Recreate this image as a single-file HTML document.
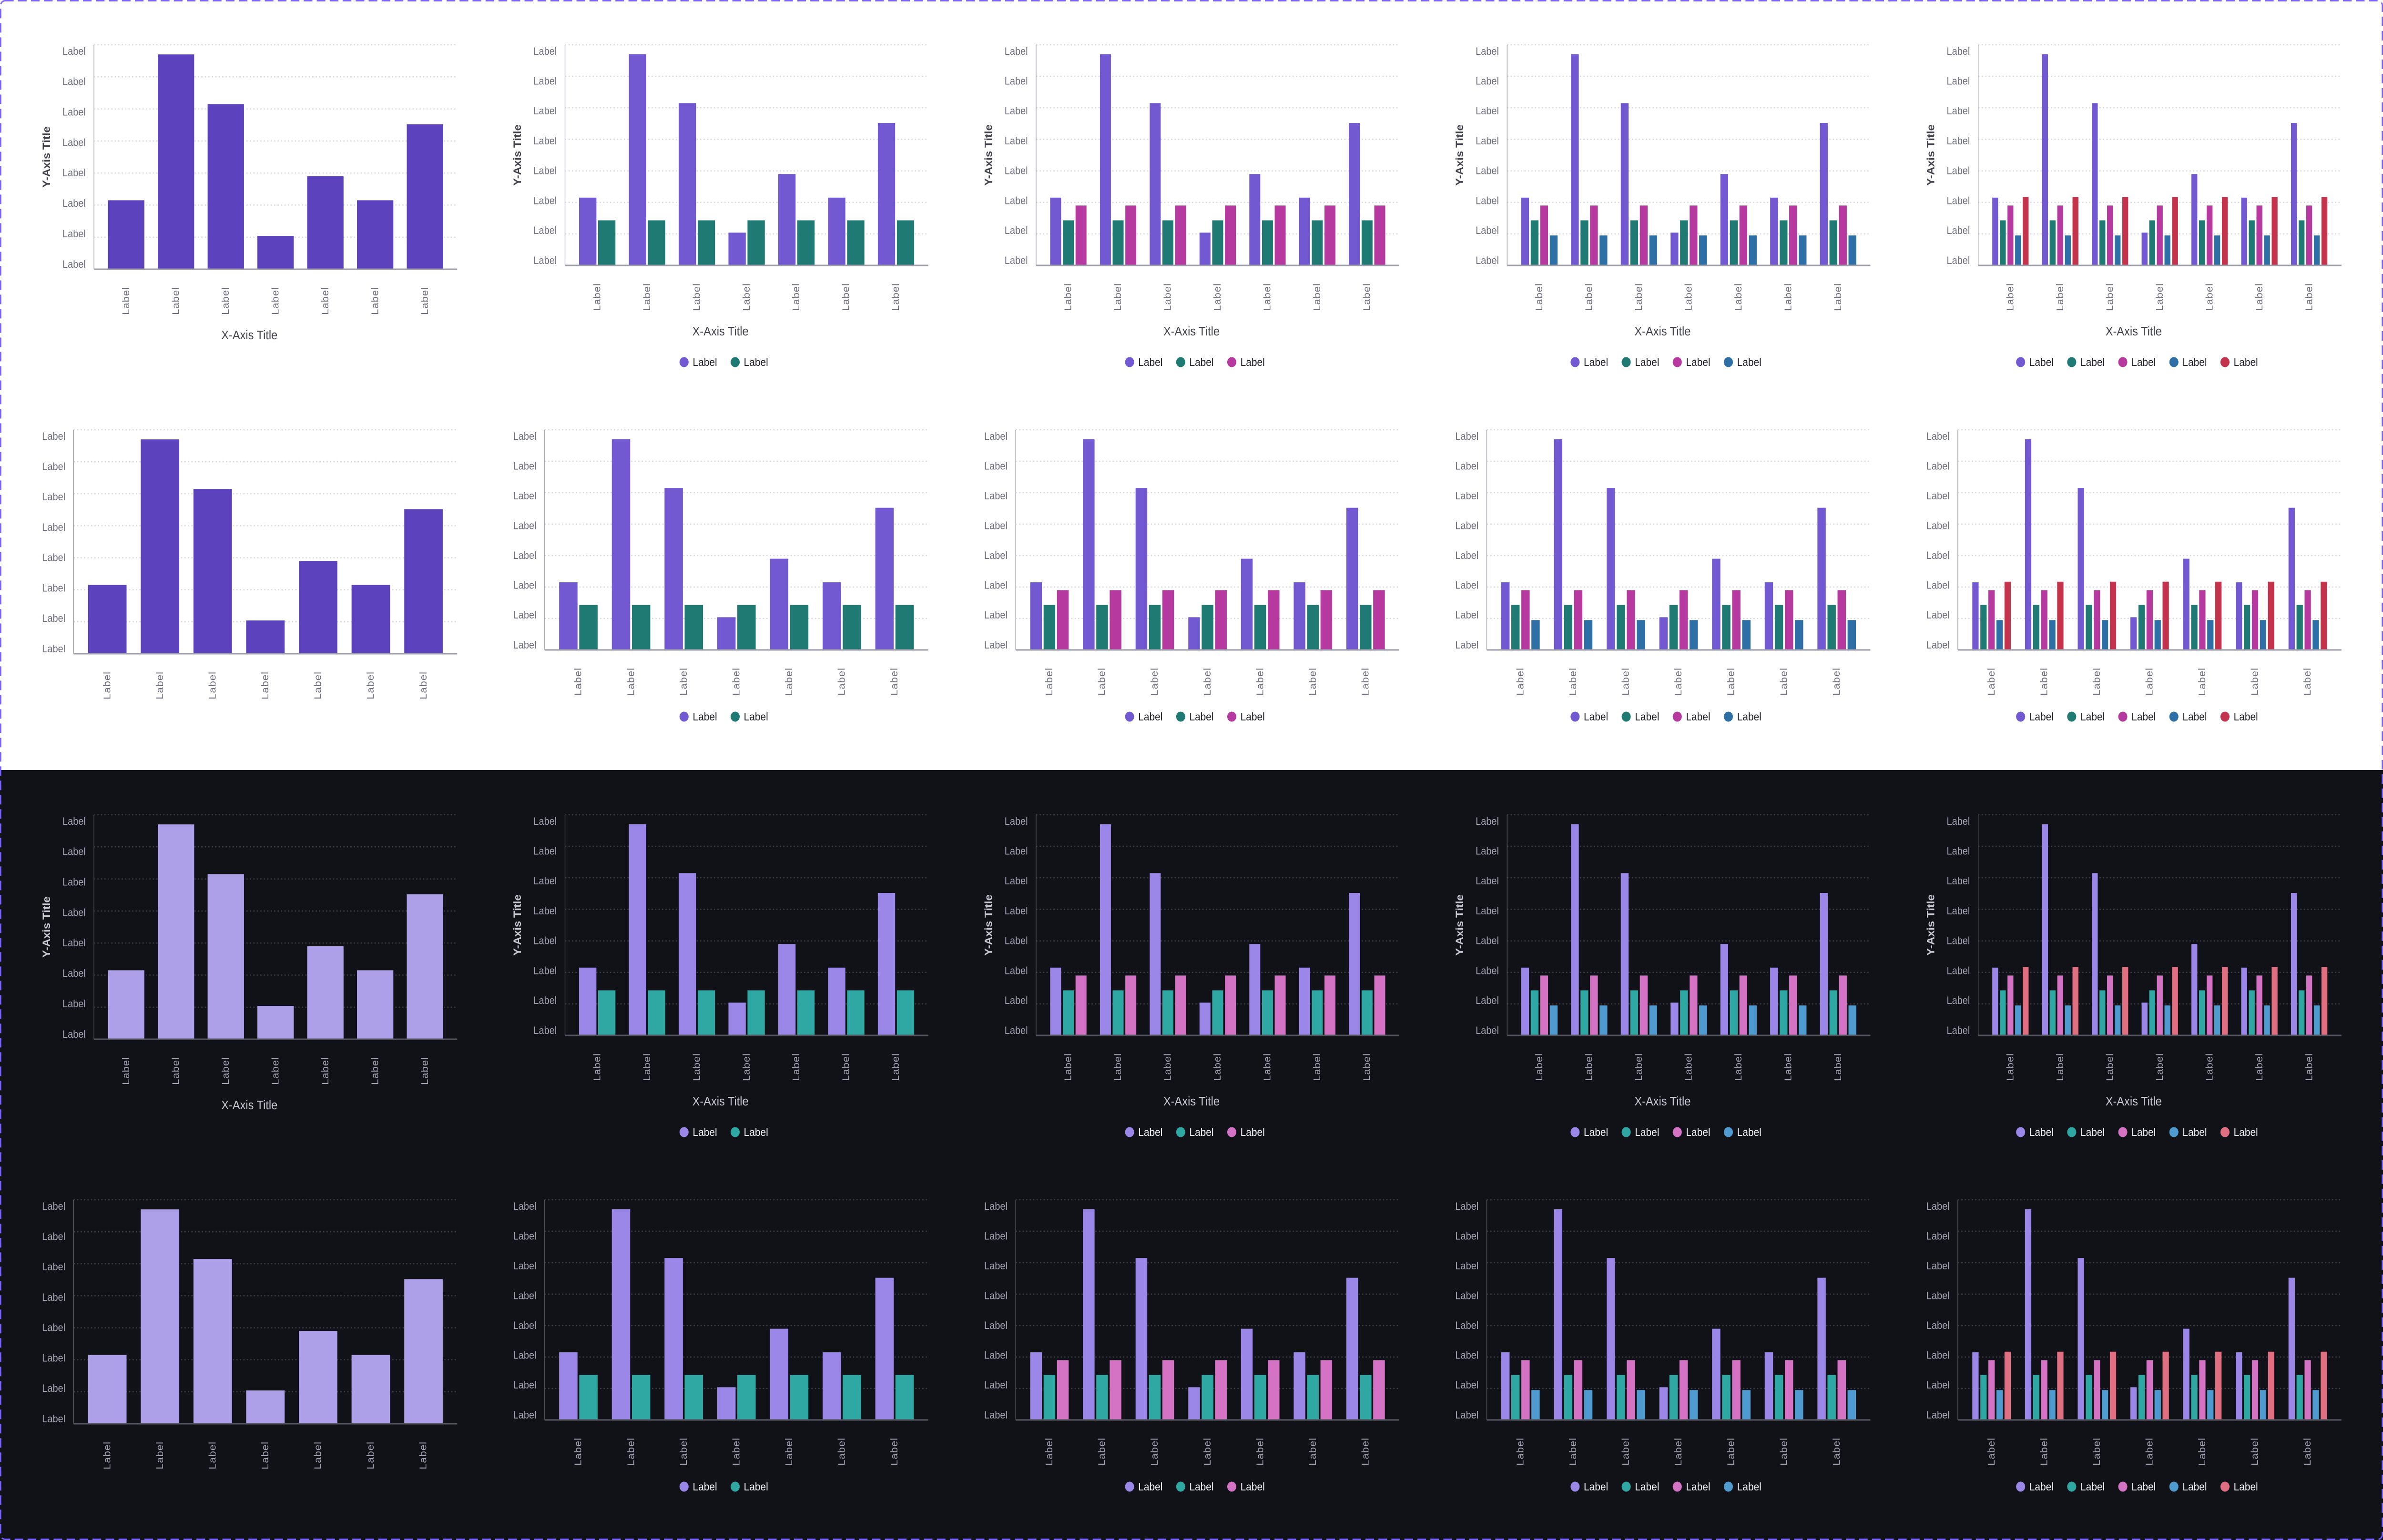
<!DOCTYPE html>
<html><head><meta charset="utf-8"><title>Bar chart variants</title>
<style>
html,body{margin:0;padding:0;background:#fff;overflow:hidden;width:100vw;height:100vh;}
svg{display:block;font-family:"Liberation Sans",sans-serif;width:100vw;height:100vh;}
</style></head>
<body>
<svg id="root" viewBox="0 0 5504 3232" preserveAspectRatio="none" xmlns="http://www.w3.org/2000/svg">
<rect x="0" y="0" width="5504" height="1616" fill="#ffffff"/>
<rect x="0" y="1616" width="5504" height="1616" fill="#111218"/>
<g id="charts"></g>
<rect x="1.5" y="1.5" width="5501" height="3229" rx="10" fill="none" stroke="#7b61ff" stroke-width="3" stroke-dasharray="20 10"/>
</svg>
<script>
// ---- data ----
const categories = ["Label","Label","Label","Label","Label","Label","Label"];
const seriesPurple = [2.15, 6.7, 5.15, 1.04, 2.9, 2.15, 4.52];
const seriesTeal = [1.43, 1.43, 1.43, 1.43, 1.43, 1.43, 1.43];
const seriesMagenta = [1.9, 1.9, 1.9, 1.9, 1.9, 1.9, 1.9];
const seriesBlue = [0.95, 0.95, 0.95, 0.95, 0.95, 0.95, 0.95];
const seriesRed = [2.17, 2.17, 2.17, 2.17, 2.17, 2.17, 2.17];
const yTickLabels = ["Label","Label","Label","Label","Label","Label","Label","Label"];
const legendLabels = ["Label","Label","Label","Label","Label"];
const yMax = 7;

const allSeries = [seriesPurple, seriesTeal, seriesMagenta, seriesBlue, seriesRed];
const seriesNames = ["purple","teal","magenta","blue","red"];
const themes = {
  light: {single:"#5c43bd", colors:["#7259d2","#207a74","#b5399f","#2e6fa6","#c3344c"],
    grid:"#d9d9df", axis:"#9c9cab", tick:"#6e6e80", title:"#43434f", legend:"#1f1f28"},
  dark: {single:"#ae9fe9", colors:["#9b87e8","#2fa7a2","#d472c4","#4f9bd0","#e07081"],
    grid:"#3b3c46", axis:"#55565f", tick:"#a3a3b3", title:"#c8c8d2", legend:"#f0f0f5"}
};
const NS = "http://www.w3.org/2000/svg";
const root = document.getElementById("charts");
function mk(tag, attrs, parent, text){
  const e = document.createElementNS(NS, tag);
  for (const k in attrs) e.setAttribute(k, attrs[k]);
  if (text !== undefined) e.textContent = text;
  parent.appendChild(e);
  return e;
}

function drawChart(col, row, half){
  const th = themes[half === 0 ? "light" : "dark"];
  const oy = half * 1616;
  const n = col + 1;
  const hasYTitle = row === 0;
  const hasXTitle = row === 0;
  const hasLegend = n > 1;
  const axisX = (hasYTitle ? 217 : 170) + 1088 * col;
  const rightX = 1056 + 1088 * col;
  const top = (row === 0 ? 94 : 902) + oy;
  const base = (row === 0 ? (n === 1 ? 565 : 557) : (n === 1 ? 1372 : 1364)) + oy;
  const centerX = 217 + 1088 * col + 359;

  const g = mk("g", {}, root);
  
  

  const yScale = v => base - (v / yMax) * (base - top);

  for (let i = 1; i <= yMax; i++){
    const y = yScale(i);
    const l = mk("line", {x1: axisX, x2: rightX, y1: y, y2: y, stroke: th.grid, "stroke-width": 2.5, "stroke-dasharray": "3 5"}, g);
    
    
  }
  const lt = top + 14, lb = base - 10;
  yTickLabels.forEach((t, i) => {
    const y = lb - (lb - lt) * i / (yTickLabels.length - 1);
    const e = mk("text", {x: axisX - 19, y: y, "text-anchor": "end", "dominant-baseline": "central", "font-size": 22, fill: th.tick}, g, t);
    
    
  });

  const pad = 17;
  const band = (rightX - axisX - 2 * pad) / categories.length;
  const groupW = band * 0.73;
  const gap = n > 1 ? 4 : 0;
  const barW = (groupW - gap * (n - 1)) / n;
  categories.forEach((c, ci) => {
    const gx = axisX + pad + band * ci + (band - groupW) / 2;
    for (let s = 0; s < n; s++){
      const v = allSeries[s][ci];
      const y = yScale(v);
      const b = mk("rect", {x: gx + s * (barW + gap), y: y, width: barW, height: base - y,
        fill: n === 1 ? th.single : th.colors[s]}, g);
      
      
    }
    const cx = axisX + pad + band * ci + band / 2;
    const ly = base + 37;
    const xl = mk("text", {x: cx, y: ly, transform: "rotate(-90 " + cx + " " + ly + ")", "text-anchor": "end",
      "dominant-baseline": "central", "font-size": 22, fill: th.tick, "letter-spacing": 1}, g, c);
    
    
  });

  const ya = mk("line", {x1: axisX, x2: axisX, y1: top, y2: base, stroke: th.axis, "stroke-width": 1.5}, g);
  
  
  const xa = mk("line", {x1: axisX, x2: rightX, y1: base, y2: base, stroke: th.axis, "stroke-width": 3}, g);
  
  

  if (hasYTitle){
    const yx = axisX - 110, yy = (top + base) / 2;
    const yt = mk("text", {x: yx, y: yy, transform: "rotate(-90 " + yx + " " + yy + ")", "text-anchor": "middle",
      "dominant-baseline": "central", "font-size": 24, "font-weight": "bold", fill: th.title}, g, "Y-Axis Title");
    
    
  }
  if (hasXTitle){
    const xt = mk("text", {x: centerX, y: base + 139, "text-anchor": "middle", "dominant-baseline": "central",
      "font-size": 26, fill: th.title}, g, "X-Axis Title");
    
    
  }
  if (hasLegend){
    const ly = base + (hasXTitle ? 203 : 140);
    const step = 118;
    const totalW = step * (n - 1) + 70;
    const startX = centerX - totalW / 2 + 10;
    for (let s = 0; s < n; s++){
      const lx = startX + s * step;
      const lg = mk("g", {}, g);
      
      
      mk("circle", {cx: lx, cy: ly, r: 10.5, fill: th.colors[s]}, lg);
      mk("text", {x: lx + 20, y: ly, "dominant-baseline": "central", "font-size": 23, fill: th.legend}, lg, legendLabels[s]);
    }
  }
}

for (let half = 0; half < 2; half++)
  for (let row = 0; row < 2; row++)
    for (let col = 0; col < 5; col++)
      drawChart(col, row, half);
</script>
</body></html>
